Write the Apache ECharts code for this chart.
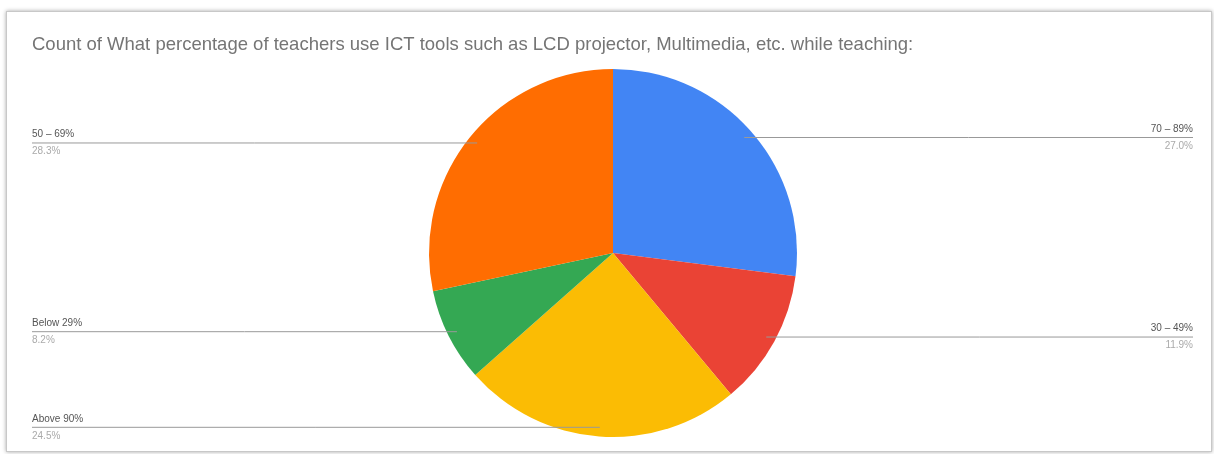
<!DOCTYPE html>
<html>
<head>
<meta charset="utf-8">
<script src="https://cdn.jsdelivr.net/npm/echarts@6/dist/echarts.min.js"></script>
<style>
  html, body { margin: 0; padding: 0; background: #fff; }
  #frame {
    position: absolute; left: 6px; top: 11px; width: 1204px; height: 439px;
    border: 1px solid #c8c8c8; box-shadow: 0 0 4px rgba(0,0,0,0.35); background: #fff;
  }
  #chart { position: absolute; left: 0; top: 0; width: 1214px; height: 454px; }
</style>
</head>
<body>
<div id="frame"></div>
<div id="chart"></div>
<script>
  // 切片名称（从12点钟方向顺时针）
  var categories = ['70 – 89%', '30 – 49%', 'Above 90%', 'Below 29%', '50 – 69%'];
  // 百分比
  var values = [27.0, 11.9, 24.5, 8.2, 28.3];
  var colors = ['#4285f4', '#ea4335', '#fbbc04', '#34a853', '#ff6d01'];

  var centerX = 613, centerY = 253;

  var chart = echarts.init(document.getElementById('chart'));
  var pieData = [];
  var labelData = [];
  for (var i = 0; i < categories.length; i++) {
    pieData.push({ name: categories[i], value: values[i], itemStyle: { color: colors[i] } });
    labelData.push({ name: categories[i], value: values[i] });
  }

  var option = {
    animation: false,
    title: {
      text: 'Count of What percentage of teachers use ICT tools such as LCD projector, Multimedia, etc. while teaching:',
      left: 32,
      top: 35,
      padding: 0,
      textStyle: { fontFamily: 'Liberation Sans', fontSize: 18.5, fontWeight: 'normal', color: '#757575' }
    },
    series: [{
      // 可见的饼图
      type: 'pie',
      center: [centerX, centerY],
      radius: 184,
      startAngle: 90,
      clockwise: true,
      silent: true,
      itemStyle: { borderWidth: 0 },
      label: { show: false },
      labelLine: { show: false },
      data: pieData
    }, {
      // 透明的一层，只用来画标签和引线（盖在饼图上面）
      type: 'pie',
      z: 5,
      center: [centerX, centerY],
      radius: 184,
      startAngle: 90,
      clockwise: true,
      silent: true,
      itemStyle: { color: 'rgba(0,0,0,0)', borderWidth: 0 },
      label: {
        show: true,
        position: 'outer',
        formatter: function (p) {
          return '{n|' + p.name + '}\n{v|' + p.value.toFixed(1) + '%}';
        },
        rich: {
          n: { fontFamily: 'Liberation Sans', fontSize: 10, color: '#555', lineHeight: 17 },
          v: { fontFamily: 'Liberation Sans', fontSize: 10, color: '#aaa', lineHeight: 17 }
        }
      },
      labelLine: { show: true, length: 10, length2: 10, lineStyle: { color: '#999', width: 1 } },
      labelLayout: function (params) {
        var p0 = params.labelLinePoints[0];
        //锚点往内收一点
        var ax = centerX + (p0[0] - centerX) * 0.95;
        var ay = centerY + (p0[1] - centerY) * 0.95;
        var left = ax < centerX;
        var ex = left ? 32 : 1193;
        return {
          x: ex,
          y: ay,
          align: left ? 'left' : 'right',
          verticalAlign: 'middle',
          labelLinePoints: [[ax, ay], [(ax + ex) / 2, ay], [ex, ay]]
        };
      },
      data: labelData
    }]
  };
  chart.setOption(option);
</script>
</body>
</html>
